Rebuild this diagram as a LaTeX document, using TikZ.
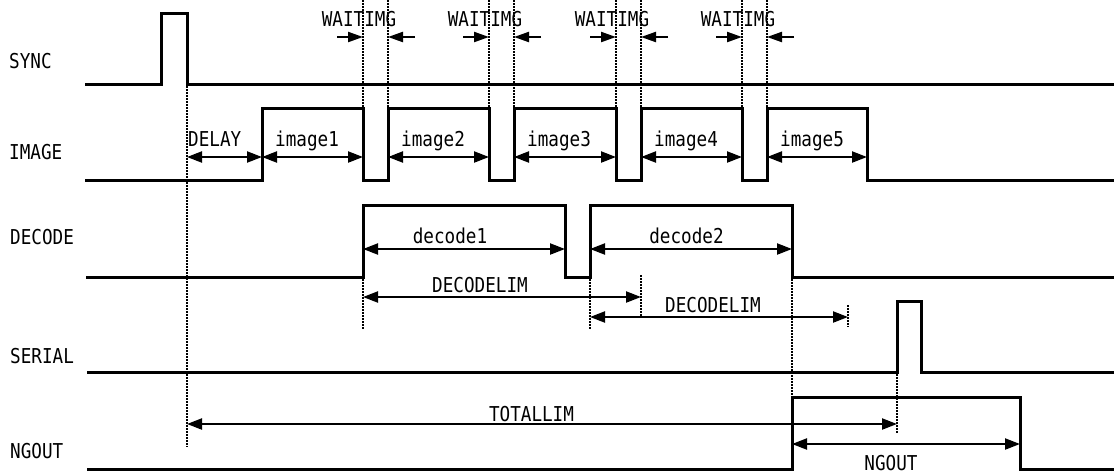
\documentclass[tikz,border=0pt]{standalone}
\usepackage{fontspec}
\setmainfont{DejaVu Sans Mono}[FakeStretch=0.86]
\usetikzlibrary{arrows.meta}
\begin{document}
\begin{tikzpicture}[x=1pt,y=-1pt,
  sig/.style={line width=3pt,line join=miter},
  dots/.style={line width=1.5pt,dash pattern=on 1.5pt off 1.5pt},
  dim/.style={line width=2.2pt,{Triangle[length=15pt,width=11pt]}-{Triangle[length=15pt,width=11pt]}},
  half/.style={line width=2.2pt,-{Triangle[length=15pt,width=10pt]}},
  lbl/.style={inner sep=0pt,font=\fontsize{20.5pt}{24pt}\selectfont},
  rowlbl/.style={lbl,anchor=base west}]
\useasboundingbox (0,0) rectangle (1114,475);
% row labels
\node[rowlbl] (lsync) at (9,68) {SYNC};
\node[rowlbl] (limage) at (9,159) {IMAGE};
\node[rowlbl] (ldecode) at (10,244) {DECODE};
\node[rowlbl] (lserial) at (10,363) {SERIAL};
\node[rowlbl] (lngout) at (10,458) {NGOUT};
% signals
\draw[sig] (85,84) -- (161,84) -- (161,13) -- (187,13) -- (187,84) -- (1114,84);
\draw[sig] (85,180) -- (262,180) -- (262,108) -- (363,108) -- (363,180) -- (388,180) -- (388,108)
  -- (489,108) -- (489,180) -- (514,180) -- (514,108) -- (616,108) -- (616,180) -- (641,180)
  -- (641,108) -- (742,108) -- (742,180) -- (767,180) -- (767,108) -- (867,108) -- (867,180) -- (1114,180);
\draw[sig] (86,277) -- (363,277) -- (363,205) -- (565,205) -- (565,277) -- (590,277) -- (590,205)
  -- (792,205) -- (792,277) -- (1114,277);
\draw[sig] (87,372) -- (897,372) -- (897,301) -- (921,301) -- (921,372) -- (1114,372);
\draw[sig] (87,469) -- (792,469) -- (792,397) -- (1020,397) -- (1020,469) -- (1114,469);
% dotted guides
\draw[dots] (187,86) -- (187,447);
\foreach \xx in {363,388,489,514,616,641,742,767} \draw[dots] (\xx,0) -- (\xx,107);
\draw[dots] (363,279) -- (363,330);
\draw[dots] (590,279) -- (590,330);
\draw[dots] (641,275) -- (641,317);
\draw[dots] (848,305) -- (848,327);
\draw[dots] (792,279) -- (792,396);
\draw[dots] (897,374) -- (897,433);
% WAITIMG
\foreach \f/\r in {363/388,489/514,616/641,742/767}{
  \coordinate (wl) at (\f-26,37); \coordinate (wlt) at (\f,37);
  \coordinate (wr) at (\r+27,37); \coordinate (wrt) at (\r,37);
  \draw[half] (wl) -- (wlt);
  \draw[half] (wr) -- (wrt);
  \node[lbl,anchor=base] at (\f-4,26.7) {WAITIMG};
}
% DELAY and images
\coordinate (dA) at (187,157); \coordinate (dB) at (262,157);
\draw[dim] (dA) -- (dB);
\node[lbl,anchor=base west] (tdelay) at (188,146.7) {DELAY};
\foreach \r/\f/\k in {262/363/1,388/489/2,514/616/3,641/742/4,767/867/5}{
  \coordinate (ia) at (\r,157); \coordinate (ib) at (\f,157);
  \draw[dim] (ia) -- (ib);
  \node[lbl,anchor=base west] at (\r+13,146.7) {image\k};
}
% decode
\coordinate (d1a) at (363,249); \coordinate (d1b) at (565,249);
\coordinate (d2a) at (590,249); \coordinate (d2b) at (792,249);
\draw[dim] (d1a) -- (d1b);
\draw[dim] (d2a) -- (d2b);
\node[lbl,anchor=base] (td1) at (450,243) {decode1};
\node[lbl,anchor=base] (td2) at (686.5,243) {decode2};
% DECODELIM
\coordinate (l1a) at (363,297); \coordinate (l1b) at (641,297);
\coordinate (l2a) at (590,317); \coordinate (l2b) at (848,317);
\draw[dim] (l1a) -- (l1b);
\draw[dim] (l2a) -- (l2b);
\node[lbl,anchor=base] (tl1) at (480,292.5) {DECODELIM};
\node[lbl,anchor=base] (tl2) at (713,312.5) {DECODELIM};
% TOTALLIM
\coordinate (ta) at (187,424); \coordinate (tb) at (897,424);
\draw[dim] (ta) -- (tb);
\node[lbl,anchor=base] (ttot) at (531.5,421.5) {TOTALLIM};
% NGOUT
\coordinate (na) at (792,444); \coordinate (nb) at (1020,444);
\draw[dim] (na) -- (nb);
\node[lbl,anchor=base] (tng) at (891,470.5) {NGOUT};
\end{tikzpicture}
\end{document}
